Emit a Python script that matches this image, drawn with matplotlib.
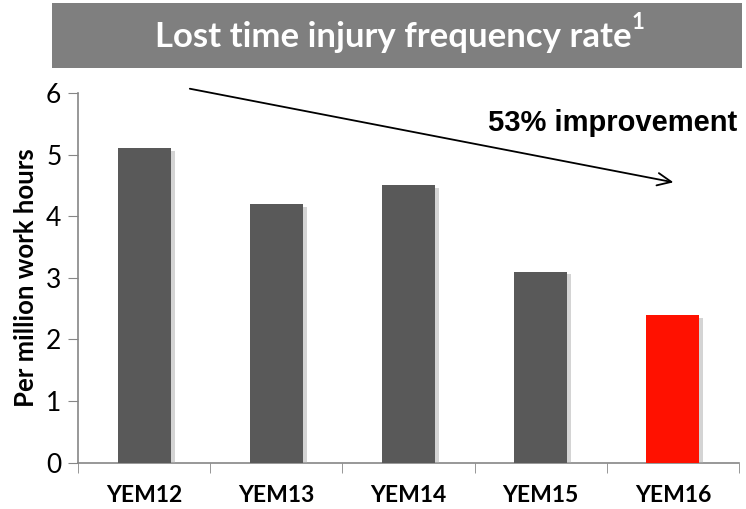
import numpy as np
import matplotlib.pyplot as plt
from matplotlib.patches import Rectangle
import matplotlib.patheffects as pe

# data
years = ['YEM12', 'YEM13', 'YEM14', 'YEM15', 'YEM16']
ltifr = [5.1, 4.2, 4.5, 3.1, 2.4]
bar_colors = ['#595959', '#595959', '#595959', '#595959', '#ff1100']

plt.rcParams['font.family'] = ['Lato', 'DejaVu Sans']

fig = plt.figure(figsize=(7.46, 5.09), dpi=100)
ax = fig.add_axes([0.1046, 0.0909, 0.886, 0.7264])

x = np.arange(len(years))
bars = ax.bar(x, ltifr, width=0.4, color=bar_colors, zorder=3)
for b in bars:
    b.set_path_effects([pe.SimplePatchShadow(offset=(3, -2), shadow_rgbFace='#aaaaaa', alpha=0.5),
                        pe.Normal()])

ax.set_xlim(-0.5, len(years) - 0.5)
ax.set_ylim(0, 6)
ax.set_yticks(range(0, 7))
ax.tick_params(axis='y', labelsize=19, length=7, color='#868686', pad=5)

ax.set_xticks(x)
ax.set_xticklabels(years, fontsize=16.5, fontweight='bold')
ax.set_xticks(np.arange(-0.5, len(years)), minor=True)
ax.tick_params(axis='x', which='major', length=0, pad=16)
ax.tick_params(axis='x', which='minor', length=7, color='#868686')

for s in ['top', 'right']:
    ax.spines[s].set_visible(False)
for s in ['left', 'bottom']:
    ax.spines[s].set_color('#868686')
    ax.spines[s].set_linewidth(1.2)

ax.set_ylabel('Per million work hours', fontsize=18.5, fontweight='bold', labelpad=6)

# title banner
fig.patches.append(Rectangle((0.0697, 0.867), 0.925, 0.127, transform=fig.transFigure,
                             facecolor='#7f7f7f', edgecolor='none', figure=fig))
fig.text(0.527, 0.928, 'Lost time injury frequency rate', color='white',
         fontsize=25, fontweight='bold', ha='center', va='center')
fig.text(0.846, 0.955, '1', color='white', fontsize=16, fontweight='bold',
         ha='left', va='center')

# trend arrow
ax.annotate('', xy=(0.905, 0.757), xytext=(0.165, 1.013), xycoords='axes fraction',
            textcoords='axes fraction',
            arrowprops=dict(arrowstyle='->,head_length=1.0,head_width=0.45', color='black', lw=1.3),
            annotation_clip=False)
ax.text(0.997, 0.92, '53% improvement', transform=ax.transAxes, ha='right', va='center',
        fontsize=21, fontweight='bold', family='Liberation Sans')

fig.savefig('out.png', dpi=100)
